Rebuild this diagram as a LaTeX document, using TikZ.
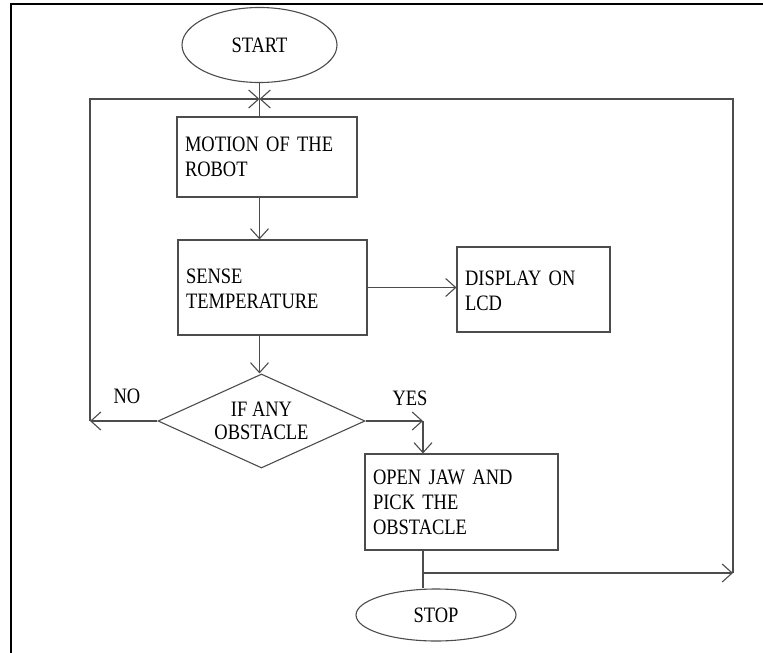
\documentclass[tikz,border=0pt]{standalone}
\usepackage{fontspec}
\setmainfont[FakeStretch=0.84]{Liberation Serif}
\usetikzlibrary{arrows.meta,calc,positioning,shapes.geometric}

\begin{document}
\begin{tikzpicture}[x=1pt, y=-1pt, >={Straight Barb[length=10pt,width=18pt]},
    line/.style={draw=black!70, line width=1.1pt},
    box/.style={line, rectangle, align=left, inner xsep=8pt, inner ysep=0pt,
      font=\fontsize{22}{25}\selectfont},
    term/.style={line, ellipse, inner sep=0pt, font=\fontsize{22}{25}\selectfont},
    cond/.style={line, diamond, inner sep=0pt, align=center,
      font=\fontsize{22}{23}\selectfont},
    lbl/.style={font=\fontsize{22}{25}\selectfont}]

  \useasboundingbox (0,0) rectangle (763,653);

  %-------------------------
  % Frame
  %-------------------------
  \draw[line width=2.2pt] (11,653) -- (11,4) -- (763,4);

  %-------------------------
  % Blocks
  %-------------------------
  \node[term, minimum width=155pt, minimum height=75pt] (start) at (259.5,45) {START};

  \node[box, text width=164pt, minimum height=80pt] (motion) at (267,157)
    {MOTION OF THE\\ROBOT};

  \node[box, text width=173pt, minimum height=95pt] (sense) at (272.5,287.5)
    {\\[-8pt]SENSE\\TEMPERATURE};

  \node[box, text width=137pt, minimum height=85pt] (lcd) at (533.5,289.5)
    {\\[-8pt]DISPLAY ON\\LCD};

  \node[cond, minimum width=207pt, minimum height=94pt, shape aspect=2.2] (check)
    at (261.5,421) {IF ANY\\OBSTACLE};

  \node[box, text width=177pt, minimum height=96pt] (jaw) at (461.5,502)
    {OPEN JAW AND\\PICK THE\\OBSTACLE};

  \node[term, minimum width=160pt, minimum height=52pt] (stop) at (436,615) {STOP};

  % Branch labels
  \node[lbl] (no) at (127,396) {NO};
  \node[lbl] (yeslbl) at (410,398) {YES};

  % Bend points
  \coordinate (top) at (259.5,99);
  \coordinate (nol) at (90,421);
  \coordinate (yes) at (423,421);
  \coordinate (jct) at (423,573);
  \coordinate (rgt) at (733,573);

  %-------------------------
  % Connectors
  %-------------------------
  \draw[line] (start.south) -- (start.south |- motion.north);
  \draw[line,->] (top |- motion.south) -- (top |- sense.north);
  \draw[line,->] (top |- sense.south) -- (top |- check.north);
  \draw[line,->] (sense.east) -- (sense.east -| lcd.west);

  % NO loop
  \draw[line,->] (check.west) -- (nol);
  \draw[line,->] (nol) |- (top);

  % YES branch
  \draw[line,->] (check.east) -- (yes);
  \draw[line,->] (yes) -- (yes |- jaw.north);
  \draw[line] (yes |- jaw.south) -- (yes |- stop.north);

  % back to the start
  \draw[line,->] (jct) -- (rgt);
  \draw[line,->] (rgt) |- (top);

\end{tikzpicture}
\end{document}
